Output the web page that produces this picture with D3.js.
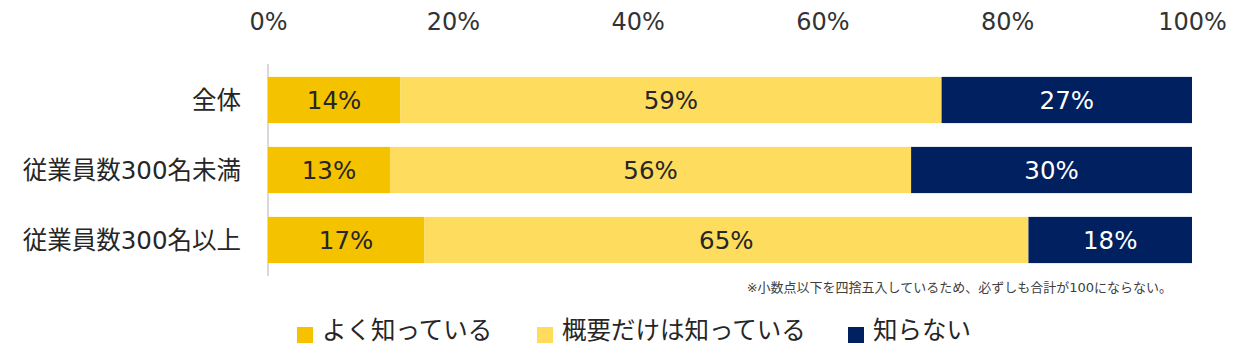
<!DOCTYPE html>
<html>
<head>
<meta charset="utf-8">
<script src="https://cdn.jsdelivr.net/npm/d3@7"></script>
<style>
  body { margin: 0; background: #fff; }
  text { font-family: "DejaVu Sans", "Noto Sans CJK JP", sans-serif; }
</style>
</head>
<body>
<div id="chart"></div>
<script>
// categories and series
var categories = ["全体", "従業員数300名未満", "従業員数300名以上"];
var seriesNames = ["よく知っている", "概要だけは知っている", "知らない"];
var wellKnown = [14.3, 13.2, 16.9];
var outline = [58.6, 56.4, 65.4];
var unknown = [27.1, 30.4, 17.7];
var tickValues = [0, 20, 40, 60, 80, 100];
var note = "※小数点以下を四捨五入しているため、必ずしも合計が100にならない。";

var colors = ["#F5C200", "#FDDC5E", "#002060"];
var textColors = ["#262626", "#262626", "#ffffff"];
var FONT = '"DejaVu Sans", "Noto Sans CJK JP", sans-serif';

var W = 1241, H = 364;
var svg = d3.select("#chart").append("svg")
  .attr("width", W).attr("height", H);

var x = d3.scaleLinear().domain([0, 100]).range([268, 1192]);
var y = d3.scaleBand().domain(categories).range([65, 275]).paddingInner(0.34).paddingOuter(0.17);

// build stacked rows
var rows = categories.map(function (c, i) {
  return { cat: c, a: wellKnown[i], b: outline[i], c: unknown[i] };
});
var stack = d3.stack().keys(["a", "b", "c"]);
var layers = stack(rows);

// top axis labels
var axis = d3.axisTop(x).tickValues(tickValues).tickSize(0).tickPadding(0)
  .tickFormat(function (d) { return d + "%"; });
var gAxis = svg.append("g").attr("transform", "translate(0,21)").call(axis);
gAxis.select(".domain").remove();
gAxis.selectAll("text")
  .attr("y", 0).attr("dy", "0.36em")
  .attr("font-size", 24).attr("fill", "#333")
  .style("font-family", FONT);

// vertical baseline
svg.append("line")
  .attr("x1", x(0)).attr("x2", x(0))
  .attr("y1", 64).attr("y2", 276)
  .attr("stroke", "#d9d9d9").attr("stroke-width", 2);

var g = svg.selectAll("g.layer").data(layers).enter().append("g")
  .attr("class", "layer")
  .attr("fill", function (d, i) { return colors[i]; });

g.selectAll("rect").data(function (d) { return d; }).enter().append("rect")
  .attr("x", function (d) { return x(d[0]); })
  .attr("width", function (d) { return x(d[1]) - x(d[0]); })
  .attr("y", function (d) { return y(d.data.cat); })
  .attr("height", y.bandwidth());

g.each(function (layer, li) {
  d3.select(this).selectAll("text").data(layer).enter().append("text")
    .attr("x", function (d) { return (x(d[0]) + x(d[1])) / 2; })
    .attr("y", function (d) { return y(d.data.cat) + y.bandwidth() / 2; })
    .attr("dy", "0.36em")
    .attr("text-anchor", "middle")
    .attr("font-size", 24.5)
    .attr("fill", textColors[li])
    .text(function (d) { return Math.round(d[1] - d[0]) + "%"; });
});

// category labels
svg.selectAll("text.cat").data(categories).enter().append("text")
  .attr("class", "cat")
  .attr("x", 241)
  .attr("y", function (d) { return y(d) + y.bandwidth() / 2; })
  .attr("dy", "0.36em")
  .attr("text-anchor", "end")
  .attr("font-size", 24.5)
  .attr("fill", "#262626")
  .text(function (d) { return d; });

// note
svg.append("text")
  .attr("x", 1172).attr("y", 287)
  .attr("dy", "0.36em")
  .attr("text-anchor", "end")
  .attr("font-size", 13)
  .attr("fill", "#404040")
  .text(note);

// legend
var legendX = [297, 537, 848];
var leg = svg.selectAll("g.leg").data(seriesNames).enter().append("g")
  .attr("class", "leg")
  .attr("transform", function (d, i) { return "translate(" + legendX[i] + ",327)"; });
leg.append("rect")
  .attr("width", 16).attr("height", 16)
  .attr("fill", function (d, i) { return colors[i]; });
leg.append("text")
  .attr("x", 25).attr("y", 3)
  .attr("dy", "0.36em")
  .attr("font-size", 24.5)
  .attr("fill", "#262626")
  .text(function (d) { return d; });
</script>
</body>
</html>
